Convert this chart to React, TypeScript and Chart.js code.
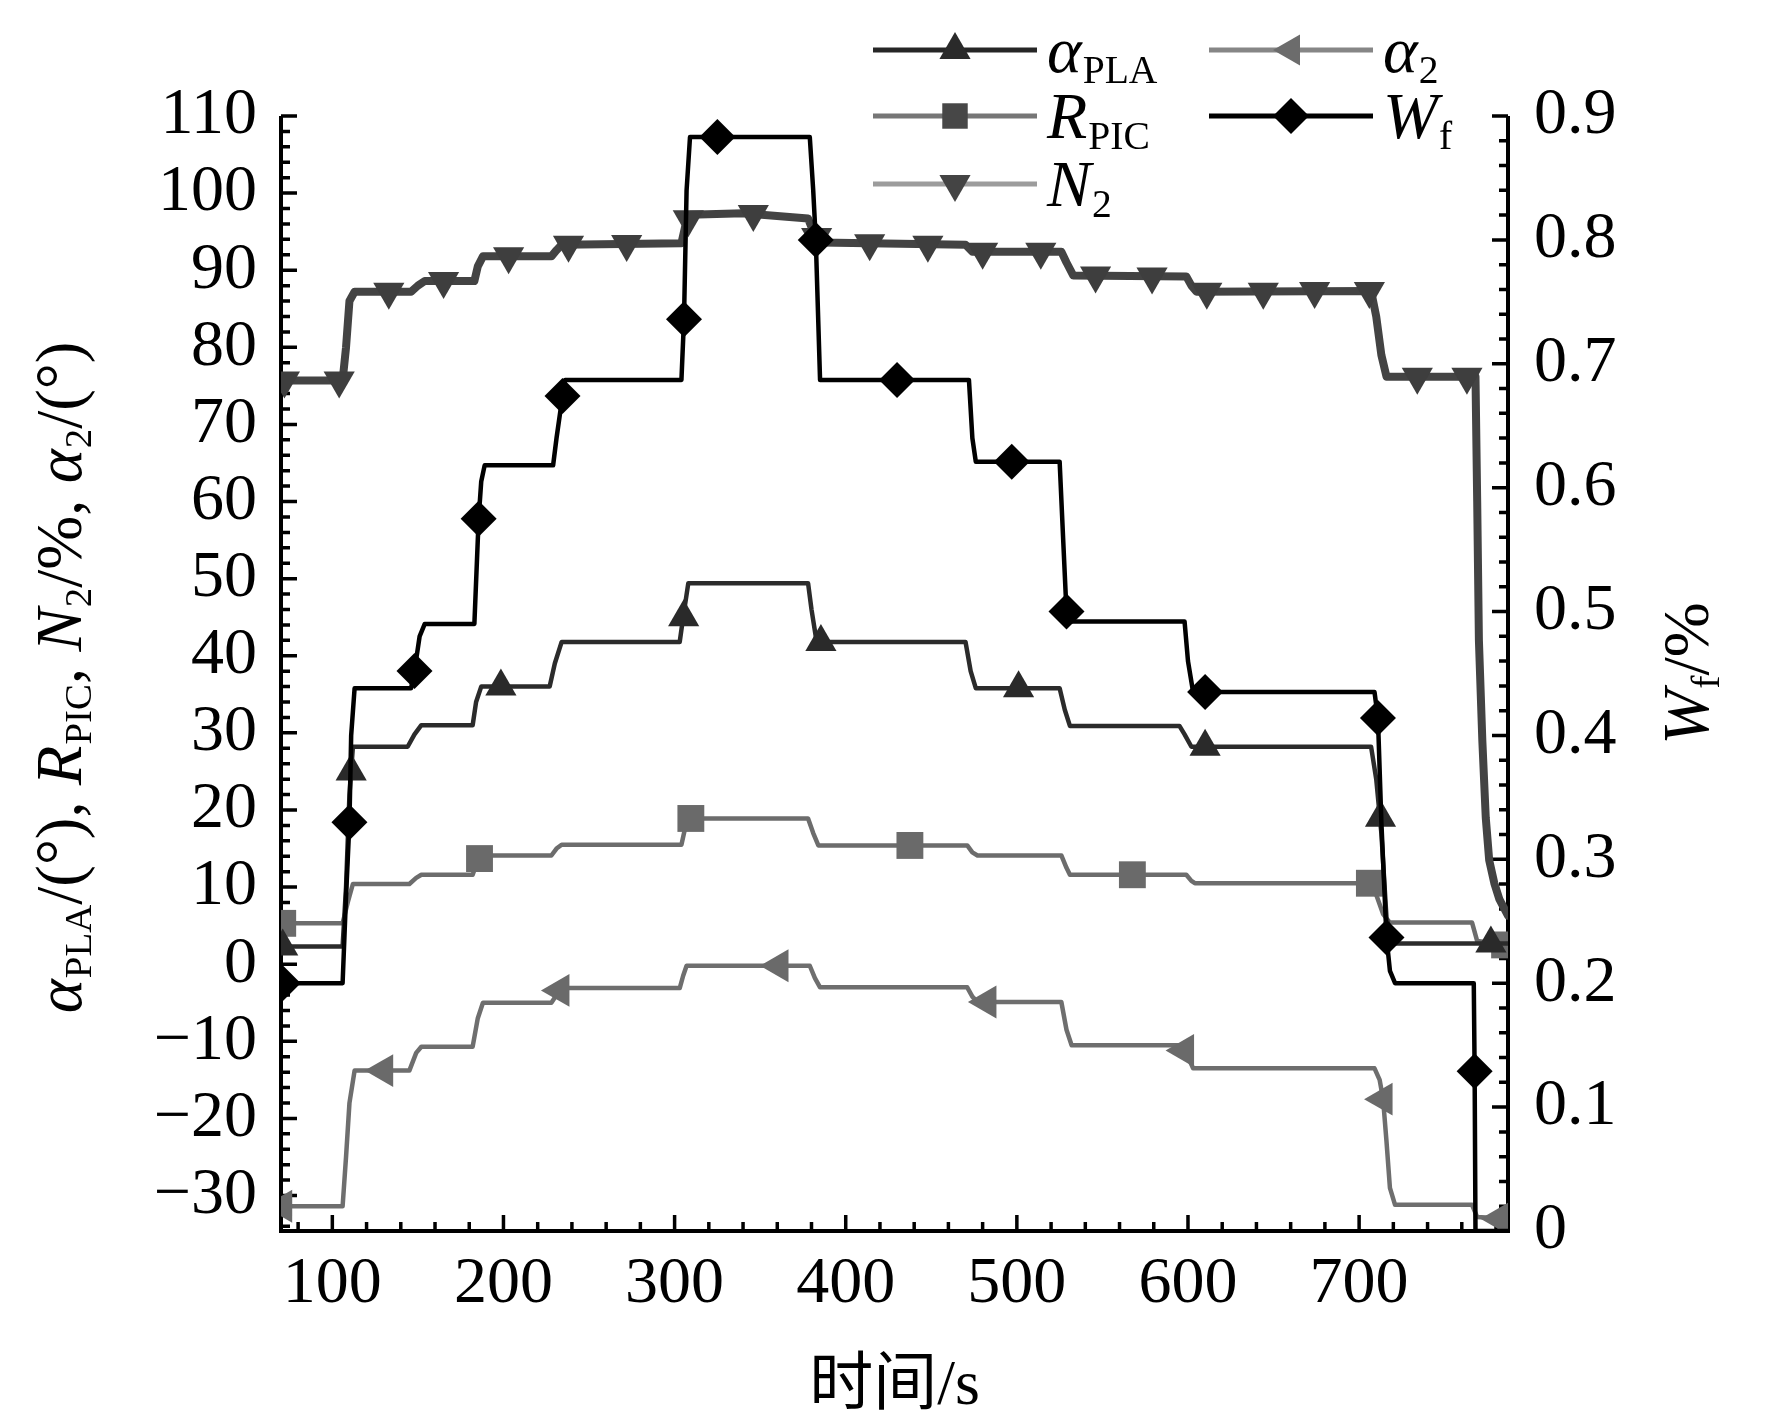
import { useEffect, useRef } from "react";
import Chart from "chart.js/auto";

// ---------------------------------------------------------------------------
// Data (time in s)
// ---------------------------------------------------------------------------
const X_MIN = 70;
const X_MAX = 787;
const LEFT_MIN = -34.6;
const LEFT_MAX = 110;
const RIGHT_MIN = 0;
const RIGHT_MAX = 0.9;

const TIME_TICKS = [100, 200, 300, 400, 500, 600, 700];
const LEFT_TICKS = [-30, -20, -10, 0, 10, 20, 30, 40, 50, 60, 70, 80, 90, 100, 110];
const RIGHT_TICKS = [0, 0.1, 0.2, 0.3, 0.4, 0.5, 0.6, 0.7, 0.8, 0.9];
const RIGHT_TICK_LABELS = ["0", "0.1", "0.2", "0.3", "0.4", "0.5", "0.6", "0.7", "0.8", "0.9"];

// alpha_PLA
const PLA_T = [70, 106, 108, 110, 112, 144, 148, 152, 182, 184, 187, 227, 230, 234, 303, 305, 308, 378, 380, 383, 470, 473, 476, 525, 528, 531, 595, 598, 602, 707, 710, 713, 716, 720, 787];
const PLA_V = [2.3, 2.3, 10, 22, 28.2, 28.2, 29.8, 31, 31, 34, 36, 36, 39, 41.8, 41.8, 45, 49.4, 49.4, 46, 41.8, 41.8, 38, 35.8, 35.8, 33, 30.9, 30.9, 29.8, 28.2, 28.2, 24, 17, 6, 2.7, 2.7];
const PLA_MARK_T = [71, 111, 305.3, 198.5, 385.5, 501, 610, 712.5, 777];
const PLA_MARK_V = [2.3, 25, 45, 36, 41.8, 35.8, 28.2, 19, 2.7];

// R_PIC
const PIC_T = [70, 106, 109, 112, 145, 149, 152, 182, 185, 188, 228, 231, 234, 304, 306, 308, 378, 381, 384, 471, 474, 477, 526, 529, 531, 599, 602, 604, 706, 710, 714, 718, 766, 769, 787];
const PIC_V = [5.3, 5.3, 8, 10.4, 10.4, 11.2, 11.6, 11.6, 13.5, 14.1, 14.1, 15, 15.5, 15.5, 17.5, 18.9, 18.9, 17, 15.4, 15.4, 14.5, 14.1, 14.1, 12.5, 11.6, 11.6, 10.8, 10.5, 10.5, 9, 6.5, 5.4, 5.4, 3, 2.5];
const PIC_MARK_T = [71, 186, 309.5, 437.5, 567.5, 706, 785];
const PIC_MARK_V = [5.3, 13.7, 18.9, 15.4, 11.6, 10.5, 2.5];

// N_2
const N2_T = [70, 106, 108, 110, 113, 146, 150, 154, 183, 185, 188, 228, 231, 234, 304, 306, 309, 340, 378, 381, 385, 470, 474, 526, 529, 533, 599, 602, 605, 707, 710, 713, 716, 768, 769, 770, 772, 774, 776, 779, 782, 787];
const N2_V = [75.7, 75.7, 80, 86, 87.2, 87.2, 88, 88.6, 88.6, 90.5, 91.8, 91.8, 92.6, 93.3, 93.5, 95.5, 97.2, 97.4, 96.7, 95, 93.6, 93.3, 92.4, 92.4, 91, 89.3, 89.2, 88, 87.2, 87.3, 84, 79, 76.2, 76.2, 60, 42, 29, 19, 13.5, 10.5, 8.4, 6.3];
const N2_MARK_T = [72, 104, 133, 165, 203, 238, 272, 308, 346, 383, 414, 448, 480, 514, 546, 579, 611, 644, 674, 706, 734, 763];
const N2_MARK_V = [75.7, 75.7, 87.2, 88.6, 91.8, 93.3, 93.4, 96.6, 97.3, 94.3, 93.5, 93.3, 92.4, 92.4, 89.3, 89.2, 87.2, 87.2, 87.3, 87.3, 76.2, 76.2];

// alpha_2
const A2_T = [70, 106, 108, 110, 113, 145, 149, 152, 182, 185, 188, 228, 231, 233, 234.5, 303, 305, 307, 379, 382, 385, 471, 474, 477, 526, 529, 532, 597, 600, 603, 709, 712, 714, 716, 718, 721, 766, 769, 787];
const A2_V = [-31.4, -31.4, -25, -18, -13.8, -13.8, -11.5, -10.7, -10.7, -7, -5, -5, -4, -3.4, -3.1, -3.1, -1.5, -0.2, -0.2, -1.8, -3, -3, -4.2, -4.9, -4.9, -8.5, -10.5, -10.5, -12, -13.5, -13.5, -15, -17.5, -23, -29, -31.2, -31.2, -32.8, -33];
const A2_MARK_T = [71, 130, 233, 361, 482.5, 598, 714, 782];
const A2_MARK_V = [-31.4, -13.8, -3.4, -0.2, -4.9, -11.2, -17.5, -33];

// W_f (right axis)
const WF_T = [70, 106, 108, 110, 111, 113, 146, 148, 151, 154, 183, 185.5, 187, 189, 229, 231, 234.5, 236, 304, 305.5, 307, 309, 379, 381, 382.5, 385, 472, 474, 476, 525, 527, 529, 532, 598, 600, 603, 709, 711, 713, 716, 718, 721, 767, 767.5, 768, 787];
const WF_V = [0.2, 0.2, 0.27, 0.33, 0.4, 0.438, 0.438, 0.452, 0.48, 0.49, 0.49, 0.575, 0.605, 0.618, 0.618, 0.64, 0.674, 0.687, 0.687, 0.736, 0.84, 0.883, 0.883, 0.84, 0.8, 0.687, 0.687, 0.64, 0.621, 0.621, 0.56, 0.5, 0.492, 0.492, 0.46, 0.435, 0.435, 0.414, 0.33, 0.237, 0.21, 0.2, 0.2, 0.129, 0, 0];
const WF_MARK_T = [71, 110, 148, 185.5, 234.5, 305.5, 325, 382.5, 430, 497, 529, 610, 711, 716, 767.5];
const WF_MARK_V = [0.2, 0.33, 0.452, 0.575, 0.674, 0.736, 0.883, 0.8, 0.687, 0.621, 0.5, 0.435, 0.414, 0.237, 0.129];

// ---------------------------------------------------------------------------
// Styling helpers
// ---------------------------------------------------------------------------
const SERIF = '"Liberation Serif", "Times New Roman", serif';
const CJK = '"Liberation Serif", "Noto Sans CJK SC", serif';
const W = 1772;
const H = 1424;
const AREA = { left: 281, right: 1508, top: 116, bottom: 1231 };
const TEXT_SIZE = 66;
const Y_TITLE_LEN = 672;

const xy = (t: number[], v: number[]) => t.map((x, i) => ({ x, y: v[i] }));

type Part = { t: string; it?: boolean; sub?: boolean };

function richWidth(ctx: CanvasRenderingContext2D, parts: Part[], size: number) {
  let w = 0;
  for (const p of parts) {
    const fs = p.sub ? size * 0.6 : size;
    ctx.font = `${p.it ? "italic " : ""}${fs}px ${SERIF}`;
    w += ctx.measureText(p.t).width + (p.sub ? 1 : 0);
  }
  return w;
}

function drawRich(ctx: CanvasRenderingContext2D, parts: Part[], x: number, y: number, size: number) {
  let cx = x;
  ctx.textAlign = "left";
  ctx.textBaseline = "alphabetic";
  for (const p of parts) {
    const fs = p.sub ? size * 0.6 : size;
    ctx.font = `${p.it ? "italic " : ""}${fs}px ${SERIF}`;
    ctx.fillText(p.t, cx + (p.sub ? 1 : 0), p.sub ? y + size * 0.16 : y);
    cx += ctx.measureText(p.t).width + (p.sub ? 1 : 0);
  }
}

function drawMarker(ctx: CanvasRenderingContext2D, style: string, x: number, y: number, r: number, rot: number) {
  ctx.beginPath();
  if (style === "triangle") {
    let a = (rot * Math.PI) / 180;
    ctx.moveTo(x + Math.sin(a) * r, y - Math.cos(a) * r);
    a += (2 * Math.PI) / 3;
    ctx.lineTo(x + Math.sin(a) * r, y - Math.cos(a) * r);
    a += (2 * Math.PI) / 3;
    ctx.lineTo(x + Math.sin(a) * r, y - Math.cos(a) * r);
  } else if (style === "rect") {
    const s = Math.SQRT1_2 * r;
    ctx.rect(x - s, y - s, 2 * s, 2 * s);
  } else {
    ctx.moveTo(x - r, y);
    ctx.lineTo(x, y - r);
    ctx.lineTo(x + r, y);
    ctx.lineTo(x, y + r);
  }
  ctx.closePath();
  ctx.fill();
}

const LEGEND = [
  { col: 0, row: 0, line: "#262626", mark: "#2a2a2a", style: "triangle", rot: 0, label: [{ t: "α", it: true }, { t: "PLA", sub: true }] },
  { col: 0, row: 1, line: "#767676", mark: "#474747", style: "rect", rot: 0, label: [{ t: "R", it: true }, { t: "PIC", sub: true }] },
  { col: 0, row: 2, line: "#9c9c9c", mark: "#444444", style: "triangle", rot: 180, label: [{ t: "N", it: true }, { t: "2", sub: true }] },
  { col: 1, row: 0, line: "#868686", mark: "#6c6c6c", style: "triangle", rot: -90, label: [{ t: "α", it: true }, { t: "2", sub: true }] },
  { col: 1, row: 1, line: "#000000", mark: "#000000", style: "rectRot", rot: 0, label: [{ t: "W", it: true }, { t: "f", sub: true }] },
];
const LEGEND_COL_X = [873, 1209];
const LEGEND_ROW_Y = [50, 116, 184];

const Y_TITLE: Part[] = [
  { t: "α", it: true }, { t: "PLA", sub: true }, { t: "/(°), " },
  { t: "R", it: true }, { t: "PIC", sub: true }, { t: ", " },
  { t: "N", it: true }, { t: "2", sub: true }, { t: "/%, " },
  { t: "α", it: true }, { t: "2", sub: true }, { t: "/(°)" },
];
const Y1_TITLE: Part[] = [{ t: "W", it: true }, { t: "f", sub: true }, { t: "/%" }];

const framePlugin = {
  id: "frame",
  beforeDatasetsDraw(chart: any) {
    const { ctx, chartArea: a, scales } = chart;
    const x = scales.x;
    const y = scales.y;
    const y1 = scales.y1;
    ctx.save();
    ctx.strokeStyle = "#000";
    ctx.lineWidth = 4;
    ctx.beginPath();
    ctx.moveTo(a.left, a.top);
    ctx.lineTo(a.left, a.bottom);
    ctx.lineTo(a.right, a.bottom);
    ctx.lineTo(a.right, a.top);
    ctx.stroke();

    ctx.lineWidth = 3.5;
    ctx.beginPath();
    // bottom axis: major 100, minor 20
    for (let v = 80; v <= X_MAX; v += 20) {
      const px = x.getPixelForValue(v);
      const len = v % 100 === 0 ? 16 : 9;
      ctx.moveTo(px, a.bottom);
      ctx.lineTo(px, a.bottom - len);
    }
    // left axis: major 10, minor 2
    for (let v = -34; v <= LEFT_MAX; v += 2) {
      const py = y.getPixelForValue(v);
      const len = v % 10 === 0 ? 16 : 9;
      ctx.moveTo(a.left, py);
      ctx.lineTo(a.left + len, py);
    }
    // right axis: major 0.1, minor 0.02
    for (let i = 0; i <= 45; i++) {
      const py = y1.getPixelForValue(i * 0.02);
      const len = i % 5 === 0 ? 16 : 9;
      ctx.moveTo(a.right, py);
      ctx.lineTo(a.right - len, py);
    }
    ctx.stroke();
    ctx.restore();
  },
  afterDraw(chart: any) {
    const { ctx, chartArea: a } = chart;
    ctx.save();
    ctx.fillStyle = "#000";

    // left title, sized to span the same length as in the figure
    const base = richWidth(ctx, Y_TITLE, 60);
    const size = (60 * Y_TITLE_LEN) / base;
    const tw = richWidth(ctx, Y_TITLE, size);
    ctx.save();
    ctx.translate(81, (a.top + a.bottom) / 2 + 4);
    ctx.rotate(-Math.PI / 2);
    drawRich(ctx, Y_TITLE, -tw / 2, 0, size);
    ctx.restore();

    // right title
    const tw1 = richWidth(ctx, Y1_TITLE, TEXT_SIZE);
    ctx.save();
    ctx.translate(1708, (a.top + a.bottom) / 2);
    ctx.rotate(-Math.PI / 2);
    drawRich(ctx, Y1_TITLE, -tw1 / 2, 0, TEXT_SIZE);
    ctx.restore();

    // x title
    ctx.font = `64px ${CJK}`;
    ctx.textAlign = "center";
    ctx.textBaseline = "alphabetic";
    ctx.fillText("时间/s", (a.left + a.right) / 2, 1404);

    // legend
    for (const item of LEGEND) {
      const x0 = LEGEND_COL_X[item.col];
      const yy = LEGEND_ROW_Y[item.row];
      ctx.strokeStyle = item.line;
      ctx.lineWidth = 5;
      ctx.beginPath();
      ctx.moveTo(x0, yy);
      ctx.lineTo(x0 + 164, yy);
      ctx.stroke();
      ctx.fillStyle = item.mark;
      drawMarker(ctx, item.style, x0 + 82, yy, 18, item.rot);
      ctx.fillStyle = "#000";
      drawRich(ctx, item.label as Part[], x0 + 174, yy + 22, TEXT_SIZE);
    }
    ctx.restore();
  },
};

const lineSet = (data: any[], color: string, width: number, axis = "y") => ({
  data,
  yAxisID: axis,
  borderColor: color,
  borderWidth: width,
  pointRadius: 0,
  fill: false,
  tension: 0,
  borderJoinStyle: "round",
  borderCapStyle: "round",
});

const markSet = (data: any[], color: string, style: string, r: number, rot: number, axis = "y") => ({
  data,
  yAxisID: axis,
  showLine: false,
  pointStyle: style,
  pointRadius: r,
  pointRotation: rot,
  pointBackgroundColor: color,
  pointBorderWidth: 0,
  borderWidth: 0,
});

const tickFont = { family: SERIF, size: TEXT_SIZE };

export default function App() {
  const canvasRef = useRef<HTMLCanvasElement>(null);

  useEffect(() => {
    if (!canvasRef.current) return;
    const chart = new Chart(canvasRef.current, {
      type: "line",
      data: {
        datasets: [
          markSet(xy(WF_MARK_T, WF_MARK_V), "#000000", "rectRot", 18, 0, "y1"),
          lineSet(xy(WF_T, WF_V), "#000000", 4.5, "y1"),
          markSet(xy(PLA_MARK_T, PLA_MARK_V), "#2a2a2a", "triangle", 18, 0),
          lineSet(xy(PLA_T, PLA_V), "#2b2b2b", 4.5),
          markSet(xy(PIC_MARK_T, PIC_MARK_V), "#6a6a6a", "rect", 19, 0),
          lineSet(xy(PIC_T, PIC_V), "#6c6c6c", 4.5),
          markSet(xy(A2_MARK_T, A2_MARK_V), "#6a6a6a", "triangle", 19, -90),
          lineSet(xy(A2_T, A2_V), "#6e6e6e", 4.5),
          markSet(xy(N2_MARK_T, N2_MARK_V), "#3e3e3e", "triangle", 18, 180),
          lineSet(xy(N2_T, N2_V), "#434343", 8),
        ] as any,
      },
      options: {
        animation: false,
        responsive: true,
        maintainAspectRatio: false,
        events: [],
        layout: { padding: { top: AREA.top, left: 0, right: 0, bottom: 0 } },
        plugins: { legend: { display: false }, tooltip: { enabled: false } },
        scales: {
          x: {
            type: "linear",
            min: X_MIN,
            max: X_MAX,
            grid: { display: false, drawTicks: false },
            border: { display: false },
            afterBuildTicks: (s: any) => { s.ticks = TIME_TICKS.map((value) => ({ value })); },
            afterFit: (s: any) => { s.height = H - AREA.bottom; },
            ticks: { font: tickFont, color: "#000", padding: 14, autoSkip: false, maxRotation: 0 },
          },
          y: {
            type: "linear",
            position: "left",
            min: LEFT_MIN,
            max: LEFT_MAX,
            grid: { display: false, drawTicks: false },
            border: { display: false },
            afterBuildTicks: (s: any) => { s.ticks = LEFT_TICKS.map((value) => ({ value })); },
            afterFit: (s: any) => { s.width = AREA.left; },
            ticks: {
              font: tickFont,
              color: "#000",
              padding: 24,
              autoSkip: false,
              callback: (v: any) => String(v).replace("-", "−"),
            },
          },
          y1: {
            type: "linear",
            position: "right",
            min: RIGHT_MIN,
            max: RIGHT_MAX,
            grid: { display: false, drawTicks: false },
            border: { display: false },
            afterBuildTicks: (s: any) => { s.ticks = RIGHT_TICKS.map((value) => ({ value })); },
            afterFit: (s: any) => { s.width = W - AREA.right; },
            ticks: {
              font: tickFont,
              color: "#000",
              padding: 26,
              autoSkip: false,
              callback: (_v: any, i: number) => RIGHT_TICK_LABELS[i],
            },
          },
        },
      },
      plugins: [framePlugin],
    } as any);
    return () => chart.destroy();
  }, []);

  return (
    <div style={{ position: "absolute", left: 0, top: 0, width: W, height: H, background: "#fff" }}>
      <canvas ref={canvasRef} />
    </div>
  );
}
